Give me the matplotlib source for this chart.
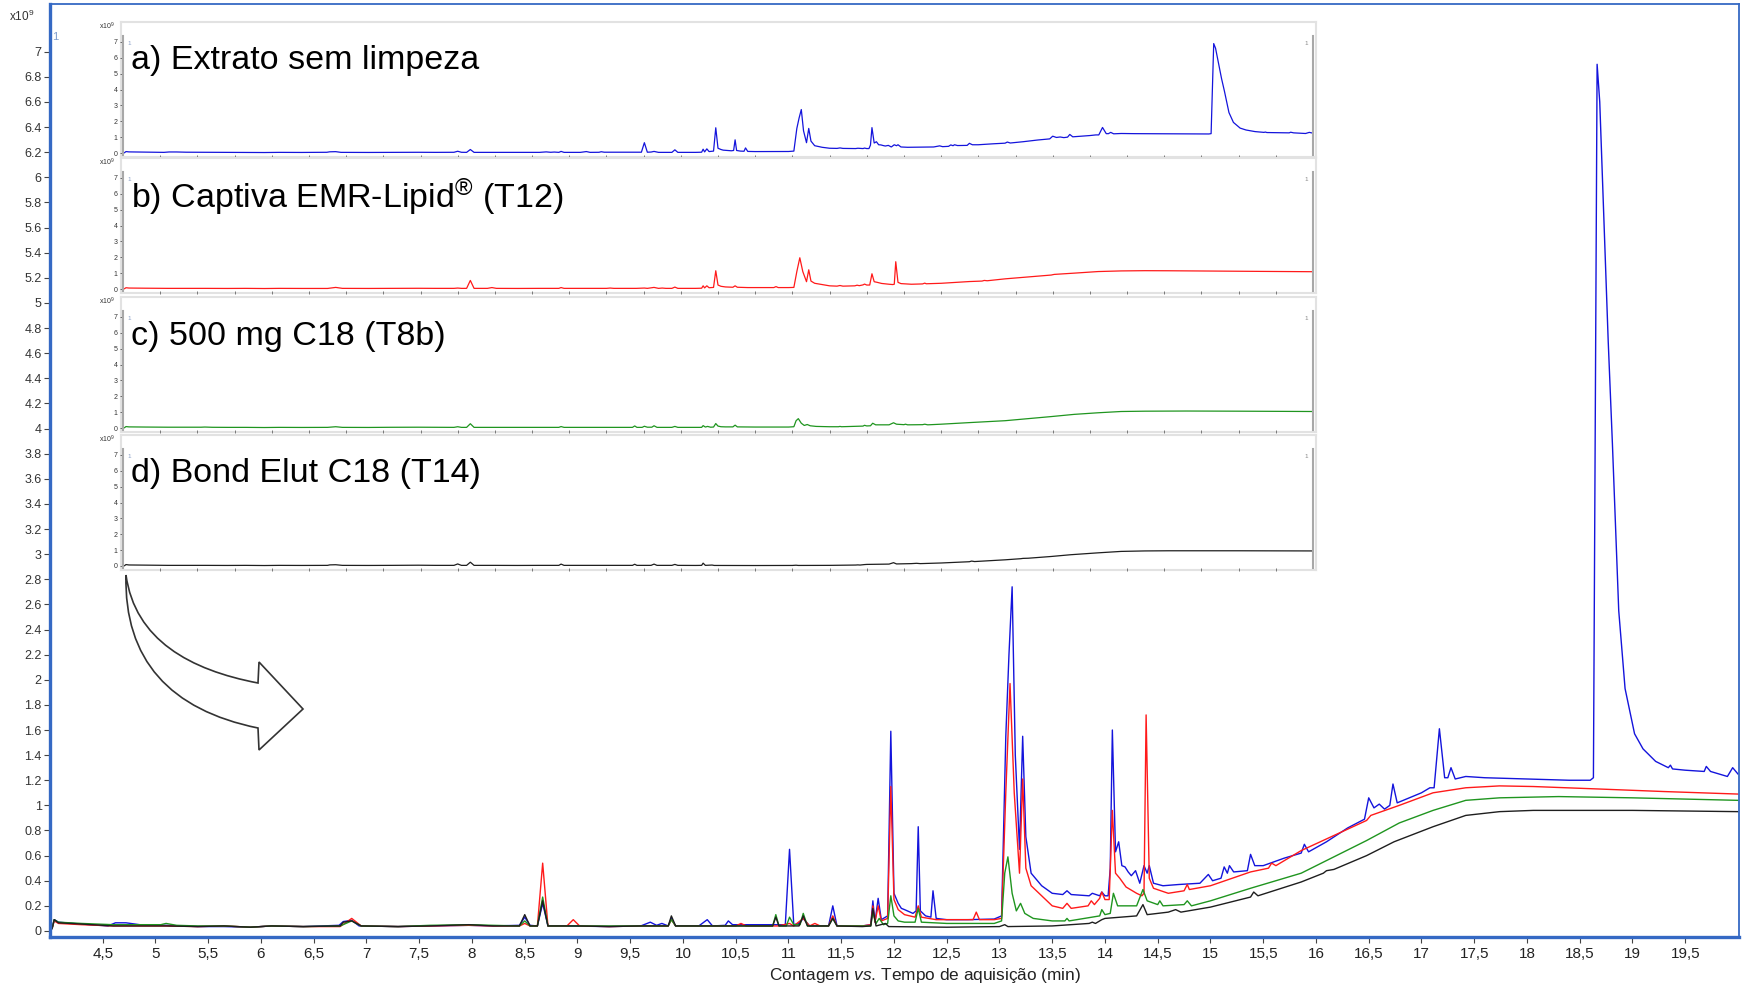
import matplotlib

matplotlib.use("Agg")

import matplotlib.pyplot as plt
from matplotlib.path import Path
from matplotlib.patches import PathPatch

plt.rcParams["font.family"] = "sans-serif"
plt.rcParams["font.sans-serif"] = ["Liberation Sans", "DejaVu Sans"]
plt.rcParams["mathtext.fontset"] = "custom"
plt.rcParams["mathtext.rm"] = "Liberation Sans"
plt.rcParams["mathtext.it"] = "Liberation Sans:italic"

W, H = 1742, 985

# chromatogram traces (time [min], counts [x10^9])
blue_t = [4.02, 4.04, 4.08, 4.3, 4.55, 4.62, 4.72, 4.85, 5.1, 5.4, 5.65, 5.9, 6.1, 6.4,
          6.74, 6.78, 6.86, 6.93, 7.3, 7.6, 7.97, 8.2, 8.45, 8.50, 8.55, 8.62, 8.67, 8.72,
          8.9, 9.3, 9.6, 9.69, 9.75, 9.8, 9.86, 9.89, 9.93, 10.15, 10.23, 10.28, 10.4,
          10.43, 10.47, 10.6, 10.9, 10.97, 11.01, 11.05, 11.1, 11.14, 11.2, 11.38, 11.42,
          11.46, 11.7, 11.78, 11.80, 11.82, 11.85, 11.88, 11.94, 11.97, 12.00, 12.04,
          12.07, 12.1, 12.18, 12.21, 12.23, 12.25, 12.3, 12.35, 12.37, 12.40, 12.5, 12.7,
          12.95, 13.02, 13.06, 13.09, 13.12, 13.15, 13.19, 13.22, 13.25, 13.3, 13.4, 13.5,
          13.6, 13.64, 13.68, 13.85, 13.88, 13.95, 13.97, 14.0, 14.03, 14.05, 14.07, 14.10,
          14.13, 14.16, 14.19, 14.22, 14.25, 14.29, 14.33, 14.37, 14.40, 14.42, 14.46,
          14.55, 14.7, 14.9, 14.98, 15.02, 15.1, 15.13, 15.16, 15.18, 15.22, 15.35, 15.38,
          15.42, 15.5, 15.7, 15.86, 15.89, 15.93, 16.1, 16.3, 16.46, 16.50, 16.55, 16.60,
          16.65, 16.70, 16.73, 16.77, 17.0, 17.08, 17.12, 17.17, 17.22, 17.25, 17.28,
          17.32, 17.42, 17.6, 18.0, 18.4, 18.60, 18.63, 18.665, 18.69, 18.73, 18.77,
          18.81, 18.87, 18.93, 19.02, 19.1, 19.16, 19.22, 19.34, 19.36, 19.38, 19.5,
          19.68, 19.7, 19.74, 19.9, 19.95, 19.97, 20.0]
blue_v = [0.02, 0.09, 0.07, 0.055, 0.04, 0.065, 0.065, 0.05, 0.045, 0.035, 0.035, 0.03,
          0.04, 0.035, 0.045, 0.075, 0.085, 0.04, 0.035, 0.04, 0.045, 0.04, 0.045, 0.11,
          0.045, 0.04, 0.22, 0.04, 0.04, 0.035, 0.04, 0.07, 0.045, 0.06, 0.04, 0.10, 0.04,
          0.04, 0.09, 0.04, 0.045, 0.08, 0.05, 0.05, 0.05, 0.05, 0.65, 0.05, 0.06, 0.10,
          0.04, 0.04, 0.20, 0.04, 0.04, 0.05, 0.24, 0.07, 0.26, 0.09, 0.12, 1.59, 0.30,
          0.22, 0.18, 0.17, 0.14, 0.16, 0.83, 0.16, 0.12, 0.11, 0.32, 0.10, 0.09, 0.09,
          0.095, 0.12, 1.55, 2.2, 2.74, 1.4, 0.65, 1.55, 0.75, 0.46, 0.36, 0.30, 0.29, 0.32,
          0.29, 0.28, 0.30, 0.28, 0.31, 0.28, 0.28, 0.5, 1.60, 0.63, 0.71, 0.52, 0.51, 0.47,
          0.44, 0.48, 0.38, 0.52, 0.46, 0.52, 0.38, 0.36, 0.37, 0.38, 0.45, 0.40, 0.42,
          0.51, 0.46, 0.52, 0.47, 0.48, 0.61, 0.52, 0.52, 0.58, 0.62, 0.69, 0.63, 0.71,
          0.82, 0.89, 1.06, 0.98, 1.01, 0.97, 1.00, 1.17, 1.02, 1.10, 1.14, 1.14, 1.61,
          1.22, 1.22, 1.30, 1.21, 1.23, 1.22, 1.21, 1.20, 1.20, 1.22, 6.90, 6.6, 5.64, 4.7,
          3.88, 2.55, 1.93, 1.57, 1.45, 1.40, 1.35, 1.30, 1.32, 1.29, 1.28, 1.27, 1.31,
          1.27, 1.23, 1.30, 1.28, 1.25]

red_t = [4.02, 4.04, 4.08, 4.3, 4.6, 4.8, 5.1, 5.4, 5.65, 5.9, 6.1, 6.4, 6.75, 6.86,
         6.95, 7.3, 7.6, 7.97, 8.2, 8.45, 8.50, 8.55, 8.62, 8.67, 8.72, 8.9, 8.96, 9.02,
         9.3, 9.6, 9.86, 9.89, 9.93, 10.5, 10.55, 10.6, 10.9, 11.01, 11.05, 11.14, 11.2,
         11.25, 11.3, 11.38, 11.42, 11.46, 11.7, 11.78, 11.80, 11.82, 11.85, 11.88, 11.94,
         11.97, 12.00, 12.04, 12.1, 12.2, 12.23, 12.26, 12.4, 12.75, 12.78, 12.81, 12.95,
         13.02, 13.06, 13.10, 13.14, 13.19, 13.22, 13.25, 13.3, 13.4, 13.5, 13.6, 13.64,
         13.68, 13.84, 13.87, 13.9, 13.95, 13.97, 14.0, 14.04, 14.07, 14.10, 14.14, 14.2,
         14.3, 14.35, 14.37, 14.39, 14.42, 14.46, 14.6, 14.75, 14.78, 14.8, 15.0, 15.38,
         15.55, 15.58, 15.62, 15.86, 16.17, 16.48, 16.52, 16.79, 17.11, 17.42, 17.74,
         18.06, 18.69, 19.3, 20.0]
red_v = [0.02, 0.08, 0.06, 0.05, 0.04, 0.04, 0.04, 0.035, 0.04, 0.03, 0.04, 0.035, 0.035,
         0.10, 0.04, 0.035, 0.04, 0.045, 0.04, 0.04, 0.06, 0.04, 0.04, 0.54, 0.04, 0.04,
         0.09, 0.04, 0.035, 0.04, 0.04, 0.09, 0.04, 0.04, 0.06, 0.04, 0.04, 0.06, 0.04,
         0.10, 0.04, 0.06, 0.04, 0.04, 0.12, 0.04, 0.04, 0.05, 0.20, 0.07, 0.20, 0.08,
         0.10, 1.15, 0.25, 0.17, 0.13, 0.11, 0.20, 0.11, 0.09, 0.09, 0.15, 0.09, 0.09,
         0.10, 1.1, 1.97, 1.1, 0.46, 1.21, 0.5, 0.36, 0.28, 0.20, 0.18, 0.22, 0.18, 0.20,
         0.24, 0.21, 0.26, 0.31, 0.25, 0.25, 0.96, 0.46, 0.42, 0.35, 0.30, 0.28, 0.3,
         1.72, 0.42, 0.34, 0.30, 0.32, 0.37, 0.33, 0.36, 0.47, 0.50, 0.54, 0.52, 0.64,
         0.76, 0.88, 0.92, 1.00, 1.10, 1.14, 1.155, 1.15, 1.13, 1.11, 1.09]

green_t = [4.02, 4.04, 4.08, 4.3, 4.6, 4.8, 5.05, 5.1, 5.2, 5.4, 5.65, 5.9, 6.1, 6.4,
           6.75, 6.86, 6.95, 7.3, 7.6, 7.97, 8.2, 8.45, 8.50, 8.55, 8.62, 8.67, 8.72, 9.0,
           9.3, 9.6, 9.86, 9.89, 9.93, 10.5, 10.85, 10.88, 10.91, 10.98, 11.01, 11.05,
           11.11, 11.14, 11.18, 11.38, 11.42, 11.46, 11.7, 11.78, 11.80, 11.83, 11.86,
           11.9, 11.94, 11.97, 12.0, 12.04, 12.1, 12.2, 12.23, 12.26, 12.5, 12.95, 13.02,
           13.05, 13.08, 13.12, 13.16, 13.2, 13.24, 13.32, 13.5, 13.62, 13.64, 13.66,
           13.95, 13.97, 14.0, 14.05, 14.08, 14.12, 14.3, 14.36, 14.4, 14.5, 14.52, 14.55,
           14.75, 14.78, 14.82, 15.0, 15.38, 15.86, 16.17, 16.48, 16.79, 17.11, 17.42,
           17.74, 18.3, 19.0, 20.0]
green_v = [0.02, 0.09, 0.07, 0.06, 0.05, 0.05, 0.05, 0.06, 0.045, 0.04, 0.04, 0.03, 0.04,
           0.035, 0.04, 0.08, 0.04, 0.035, 0.045, 0.05, 0.045, 0.04, 0.08, 0.04, 0.04,
           0.27, 0.04, 0.04, 0.04, 0.04, 0.04, 0.09, 0.04, 0.04, 0.04, 0.13, 0.04, 0.04,
           0.11, 0.05, 0.05, 0.14, 0.04, 0.04, 0.10, 0.04, 0.04, 0.04, 0.15, 0.06, 0.10,
           0.05, 0.06, 0.28, 0.12, 0.08, 0.07, 0.07, 0.18, 0.07, 0.06, 0.06, 0.08, 0.46,
           0.59, 0.3, 0.16, 0.22, 0.14, 0.10, 0.08, 0.08, 0.10, 0.08, 0.12, 0.17, 0.13,
           0.14, 0.30, 0.20, 0.20, 0.33, 0.24, 0.21, 0.24, 0.20, 0.21, 0.24, 0.20, 0.24,
           0.34, 0.46, 0.59, 0.72, 0.86, 0.96, 1.04, 1.06, 1.07, 1.06, 1.04]

black_t = [4.02, 4.04, 4.08, 4.3, 4.6, 4.8, 5.1, 5.4, 5.65, 5.9, 6.1, 6.4, 6.75, 6.78,
           6.86, 6.95, 7.3, 7.6, 7.97, 8.2, 8.45, 8.50, 8.55, 8.62, 8.67, 8.72, 9.0, 9.3,
           9.6, 9.86, 9.89, 9.93, 10.5, 10.85, 10.88, 10.91, 11.1, 11.14, 11.18, 11.38,
           11.42, 11.46, 11.7, 11.78, 11.80, 11.83, 11.92, 11.95, 12.5, 13.0, 13.05, 13.08,
           13.5, 13.85, 13.88, 13.91, 13.97, 14.0, 14.3, 14.36, 14.4, 14.6, 14.67, 14.72,
           15.0, 15.38, 15.41, 15.45, 15.86, 16.07, 16.10, 16.17, 16.48, 16.74, 17.11,
           17.42, 17.74, 18.06, 19.0, 20.0]
black_v = [0.02, 0.09, 0.065, 0.055, 0.04, 0.04, 0.04, 0.035, 0.04, 0.03, 0.04, 0.035,
           0.04, 0.07, 0.08, 0.04, 0.035, 0.04, 0.05, 0.04, 0.04, 0.13, 0.04, 0.04, 0.24,
           0.04, 0.04, 0.035, 0.04, 0.04, 0.12, 0.04, 0.04, 0.04, 0.11, 0.04, 0.04, 0.12,
           0.04, 0.04, 0.10, 0.04, 0.035, 0.04, 0.18, 0.04, 0.06, 0.035, 0.03, 0.035, 0.05,
           0.035, 0.04, 0.06, 0.07, 0.06, 0.09, 0.10, 0.12, 0.21, 0.13, 0.15, 0.17, 0.15,
           0.19, 0.27, 0.31, 0.28, 0.39, 0.46, 0.48, 0.49, 0.60, 0.71, 0.83, 0.92, 0.95,
           0.96, 0.96, 0.95]

labels = ["a) Extrato sem limpeza", "b) Captiva EMR-Lipid$^{®}$ (T12)",
          "c) 500 mg C18 (T8b)", "d) Bond Elut C18 (T14)"]
colors = ["#1414dc", "#ff1a1a", "#1f951f", "#1e1e1e"]
x_ticks = [4.5 + 0.5 * i for i in range(31)]
y_ticks = [round(0.2 * i, 1) for i in range(36)]
inset_y_ticks = [0, 1, 2, 3, 4, 5, 6, 7]

series = [(blue_t, blue_v), (red_t, red_v), (green_t, green_v), (black_t, black_v)]

SPINE = "#3569c4"
INK = "#222222"


def px_box(x0, y0, x1, y1):
    return [x0 / W, 1 - y1 / H, (x1 - x0) / W, (y1 - y0) / H]


fig = plt.figure(figsize=(W / 100, H / 100), dpi=100)

# main chromatogram overlay
ax = fig.add_axes(px_box(50, 4, 1739, 937))
for (t, v), col in zip(series, colors):
    ax.plot(t, v, color=col, lw=1.0)
ax.set_xlim(4.0, 20.01)
ax.set_ylim(-0.048, 7.38)
ax.set_xticks(x_ticks)
ax.set_xticklabels([f"{x:g}".replace(".", ",") for x in x_ticks])
ax.set_yticks(y_ticks)
ax.set_yticklabels([f"{y:g}" for y in y_ticks])
ax.tick_params(axis="x", labelsize=11, length=4, width=0.8, color="#444", pad=3,
               labelcolor=INK)
ax.tick_params(axis="y", labelsize=9, length=4, width=0.8, color="#444", pad=2,
               labelcolor="#333")
for side in ["left", "bottom"]:
    ax.spines[side].set_color(SPINE)
    ax.spines[side].set_linewidth(2.4)
for side in ["top", "right"]:
    ax.spines[side].set_color(SPINE)
    ax.spines[side].set_linewidth(1.3)
ax.set_xlabel(r"$\mathrm{Contagem}\ \mathit{vs.}\!\ \mathrm{Tempo\ de\ aquisição\ (min)}$",
              fontsize=12.4, color=INK)
ax.xaxis.set_label_coords(0.518, -0.031)
fig.text(22 / W, 1 - 16 / H, "x10$^{9}$", fontsize=8.5, color="#333",
         ha="center", va="center")
fig.text(55 / W, 1 - 37 / H, "1", fontsize=8, color="#7d9ccc",
         ha="center", va="center")

# stacked insets, one per cleanup
zeros = [153, 289, 428, 566]
PXU = 15.86
for i, ((t, v), col, lab, z) in enumerate(zip(series, colors, labels, zeros)):
    frame = fig.add_axes(px_box(121, z - 131, 1316, z + 4), zorder=1 + 2 * i)
    frame.set_xticks([])
    frame.set_yticks([])
    frame.set_facecolor("white")
    for sp in frame.spines.values():
        sp.set_color("#e2e2e2")
        sp.set_linewidth(1.5)

    ins = fig.add_axes(px_box(123, z - 7.4 * PXU, 1313, z + 0.13 * PXU),
                       zorder=2 + 2 * i)
    ins.patch.set_alpha(0)
    ins.plot(t, v, color=col, lw=0.9)
    ins.set_xlim(4.0, 20.0)
    ins.set_ylim(-0.13, 7.4)
    ins.set_yticks(inset_y_ticks)
    ins.set_xticks(x_ticks)
    ins.set_xticklabels([])
    ins.tick_params(axis="y", labelsize=5, length=2.5, width=0.6, color="#555",
                    pad=1.5, labelcolor="#333")
    ins.tick_params(axis="x", length=2.5, width=0.6, color="#666")
    for side in ["left", "right"]:
        ins.spines[side].set_color("#a8a8a8")
        ins.spines[side].set_linewidth(1.5)
    ins.spines["top"].set_visible(False)
    ins.spines["bottom"].set_visible(False)
    ins.annotate("x10$^{9}$", xy=(0, 1), xycoords="axes fraction", xytext=(-16, 4),
                 textcoords="offset pixels", fontsize=5, color="#333",
                 ha="center", va="bottom")
    ins.text(0.004, 0.93, "1", transform=ins.transAxes, fontsize=4.5, color="#8aa0c8",
             ha="left", va="center")
    ins.text(0.996, 0.93, "1", transform=ins.transAxes, fontsize=4.5, color="#888",
             ha="right", va="center")
    fig.text(131 / W, 1 - (z - 92) / H, lab, fontsize=24.5, color="black",
             ha="left", va="center", zorder=10)

# curved block arrow pointing from the insets to the overlay
over = fig.add_axes([0, 0, 1, 1], zorder=20)
over.set_xlim(0, W)
over.set_ylim(H, 0)
over.axis("off")
verts = [(126, 575), (124, 660), (170, 710), (258, 728), (259, 750), (303, 709),
         (259, 662), (258, 683), (190, 670), (135, 640), (126, 575), (126, 575)]
codes = [Path.MOVETO, Path.CURVE4, Path.CURVE4, Path.CURVE4, Path.LINETO, Path.LINETO,
         Path.LINETO, Path.LINETO, Path.CURVE4, Path.CURVE4, Path.CURVE4, Path.CLOSEPOLY]
over.add_patch(PathPatch(Path(verts, codes), facecolor="white", edgecolor="#333",
                         lw=1.2))

fig.savefig("out.png", dpi=100)
